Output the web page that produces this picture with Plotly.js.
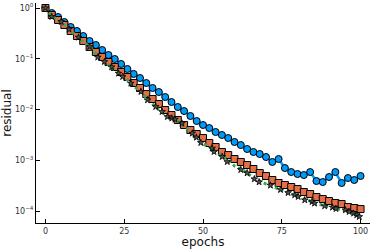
<!DOCTYPE html>
<html><head><meta charset="utf-8">
<script src="https://cdn.plot.ly/plotly-3.0.1.min.js"></script>
<style>html,body{margin:0;padding:0;background:#fff}#chart{width:374px;height:249px}</style>
</head><body><div id="chart"></div>
<script>
// epochs for the three regularly sampled runs
const epochs = [0,2,4,6,8,10,12,14,16,18,20,22,24,26,28,30,32,34,36,38,40,42,44,46,48,50,52,54,56,58,60,62,64,66,68,70,72,74,76,78,80,82,84,86,88,90,92,94,96,98,100];
// log10 of residual
const blueLog = [0,-0.099,-0.177,-0.276,-0.374,-0.453,-0.552,-0.650,-0.729,-0.828,-0.926,-1.005,-1.103,-1.202,-1.300,-1.379,-1.478,-1.576,-1.655,-1.754,-1.852,-1.951,-2.030,-2.128,-2.227,-2.305,-2.365,-2.443,-2.502,-2.562,-2.640,-2.700,-2.778,-2.837,-2.877,-2.936,-3.034,-2.975,-3.153,-3.232,-3.271,-3.291,-3.232,-3.409,-3.429,-3.330,-3.232,-3.448,-3.350,-3.389,-3.310];
const orangeLog = [0,-0.138,-0.236,-0.335,-0.453,-0.552,-0.650,-0.768,-0.867,-0.966,-1.064,-1.163,-1.261,-1.360,-1.478,-1.576,-1.695,-1.793,-1.892,-2.010,-2.108,-2.207,-2.305,-2.404,-2.483,-2.562,-2.660,-2.739,-2.837,-2.897,-2.975,-3.034,-3.094,-3.172,-3.251,-3.310,-3.389,-3.448,-3.488,-3.527,-3.567,-3.626,-3.665,-3.724,-3.764,-3.803,-3.842,-3.862,-3.921,-3.941,-3.961];
const greenLog = [0,-0.158,-0.236,-0.335,-0.453,-0.552,-0.650,-0.768,-0.906,-1.025,-1.123,-1.222,-1.320,-1.419,-1.537,-1.635,-1.773,-1.892,-2.010,-2.108,-2.167,-2.227,-2.325,-2.424,-2.581,-2.680,-2.739,-2.818,-2.916,-2.995,-3.113,-3.172,-3.251,-3.350,-3.409,-3.468,-3.507,-3.567,-3.606,-3.665,-3.704,-3.764,-3.803,-3.862,-3.882,-3.921,-3.941,-3.980,-4.000,-4.059,-4.099];
// star series (irregular epochs)
const starEpochs = [0,2,5,7.5,10.5,14,16.6,18.7,21,23.2,24.5,27.1,30.3,32.4,35,37,38.7,40.1,41.1,43.3,46.6,47.9,49.3,52.9,53.5,56.1,57.7,62,64,66.3,67.8,71.4,74.6,77,79.1,80.2,82.3,84.6,85.4,88.6,91.1,92.2,95.2,96.4,97.8,98.8,99.6];
const starLog = [0,-0.171,-0.270,-0.420,-0.577,-0.763,-0.971,-1.058,-1.163,-1.287,-1.354,-1.484,-1.649,-1.813,-1.945,-2.043,-2.142,-2.173,-2.193,-2.272,-2.469,-2.548,-2.654,-2.764,-2.832,-2.930,-3.029,-3.186,-3.251,-3.369,-3.429,-3.494,-3.580,-3.640,-3.685,-3.718,-3.783,-3.817,-3.848,-3.901,-3.927,-3.954,-3.980,-4.014,-4.045,-4.079,-4.112];
const yTickVals = [1,0.1,0.01,0.001,0.0001];
const yTickText = ['10<sup>0</sup>','10<sup>−1</sup>','10<sup>−2</sup>','10<sup>−3</sup>','10<sup>−4</sup>'];
const xTickVals = [0,25,50,75,100];

const pw = a => a.map(v => Math.pow(10, v));

const traces = [
  {x: epochs, y: pw(blueLog), mode: 'lines+markers', line: {color: '#009AFA', width: 2.5},
   marker: {symbol: 'circle', size: 7, color: '#009AFA', line: {color: '#000', width: 1}}},
  {x: epochs, y: pw(orangeLog), mode: 'lines+markers', line: {color: '#E36F47', width: 2.5},
   marker: {symbol: 'square', size: 7, color: '#E36F47', line: {color: '#000', width: 1}}},
  {x: epochs, y: pw(greenLog), mode: 'lines', line: {color: '#3EA44E', width: 3, dash: 'dot'}},
  {x: starEpochs, y: pw(starLog), mode: 'markers',
   marker: {symbol: 'star', size: 5, color: '#555', line: {color: '#000', width: 0.8}}}
];

const layout = {
  width: 374, height: 249,
  margin: {l: 36, r: 4, t: 3, b: 26},
  paper_bgcolor: '#fff', plot_bgcolor: '#fff',
  showlegend: false,
  font: {family: 'DejaVu Sans', color: '#000'},
  xaxis: {range: [-3, 103], tickvals: xTickVals, ticks: 'inside', ticklen: 4, tickcolor: '#000',
          showgrid: false, zeroline: false, showline: true, linecolor: '#000', linewidth: 1,
          tickfont: {size: 8, color: '#333'}, automargin: false,
          title: {text: 'epochs', font: {size: 12, color: '#111'}, standoff: 5}},
  yaxis: {type: 'log', range: [-4.236, 0.0985], tickvals: yTickVals, ticktext: yTickText,
          ticks: 'inside', ticklen: 4, tickcolor: '#000', automargin: false,
          showgrid: false, zeroline: false, showline: true, linecolor: '#000', linewidth: 1,
          tickfont: {size: 8, color: '#333'},
          title: {text: 'residual', font: {size: 12, color: '#111'}, standoff: 3}}
};
Plotly.newPlot('chart', traces, layout, {staticPlot: true, displayModeBar: false});
</script></body></html>
